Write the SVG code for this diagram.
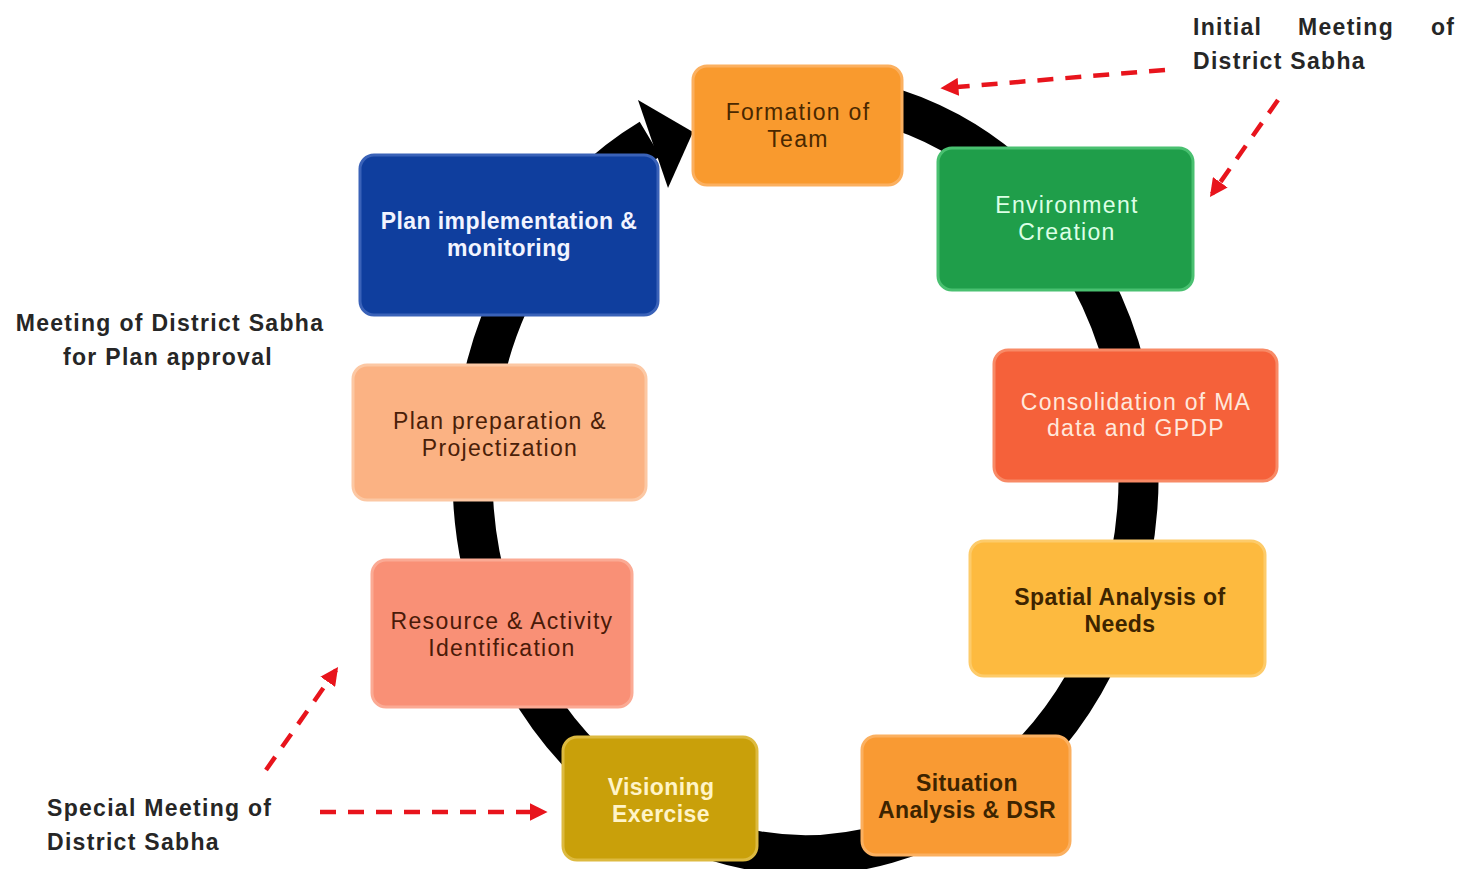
<svg xmlns="http://www.w3.org/2000/svg" width="1463" height="869" viewBox="0 0 1463 869">
<style>
.box{stroke-width:3;}
.t{font-family:"Liberation Sans",Arial,sans-serif;font-size:23px;text-anchor:middle;letter-spacing:1.3px;}
.b{font-weight:bold;letter-spacing:0.4px;}
.note{font-family:"Liberation Sans",Arial,sans-serif;font-size:23px;font-weight:bold;fill:#262626;letter-spacing:1.3px;}
.red{fill:none;stroke:#e8141c;stroke-width:4.5;stroke-dasharray:16 12;}
</style>
<defs>
<marker id="ra" viewBox="0 0 10 10" refX="8" refY="5" markerWidth="4" markerHeight="4" orient="auto" markerUnits="strokeWidth">
<path d="M0,0 L10,5 L0,10 z" fill="#e8141c"/>
</marker>
</defs>
<rect width="1463" height="869" fill="#ffffff"/>
<g id="connectors">
<path d="M 803 95 A 333 380 0 1 1 650 139" fill="none" stroke="#000" stroke-width="40"/>
<polygon points="638,100 668,188 693,132" fill="#000"/>
<path class="red" d="M 1165 70 L 944 88" marker-end="url(#ra)"/>
<path class="red" d="M 1278 100 L 1212 194" marker-end="url(#ra)"/>
<path class="red" d="M 266 770 L 336 670" marker-end="url(#ra)"/>
<path class="red" d="M 320 812 L 544 812" marker-end="url(#ra)"/>
</g>
<g id="n1">
<rect class="box" x="693" y="66" width="209" height="119" rx="14" fill="#F99A2E" stroke="#FBB060"/>
<text class="t" x="798" y="120" fill="#4a2800">Formation of</text>
<text class="t" x="798" y="147" fill="#4a2800">Team</text>
</g>
<g id="n2">
<rect class="box" x="938" y="148" width="255" height="142" rx="14" fill="#1F9E4A" stroke="#49C070"/>
<text class="t" x="1067" y="213" fill="#dcffe6">Environment</text>
<text class="t" x="1067" y="240" fill="#dcffe6">Creation</text>
</g>
<g id="n3">
<rect class="box" x="994" y="350" width="283" height="131" rx="14" fill="#F5613A" stroke="#F88A66"/>
<text class="t" x="1136" y="410" fill="#ffe8dc">Consolidation of MA</text>
<text class="t" x="1136" y="436" fill="#ffe8dc">data and GPDP</text>
</g>
<g id="n4">
<rect class="box" x="970" y="541" width="295" height="135" rx="14" fill="#FDBA3F" stroke="#FDCB6A"/>
<text class="t b" x="1120" y="605" fill="#3d2400">Spatial Analysis of</text>
<text class="t b" x="1120" y="632" fill="#3d2400">Needs</text>
</g>
<g id="n5">
<rect class="box" x="862" y="736" width="208" height="119" rx="14" fill="#F99A33" stroke="#FBB060"/>
<text class="t b" x="967" y="791" fill="#3d2400">Situation</text>
<text class="t b" x="967" y="818" fill="#3d2400">Analysis &amp; DSR</text>
</g>
<g id="n6">
<rect class="box" x="563" y="737" width="194" height="123" rx="14" fill="#C9A00A" stroke="#DDBA40"/>
<text class="t b" x="661" y="795" fill="#fff4c8">Visioning</text>
<text class="t b" x="661" y="822" fill="#fff4c8">Exercise</text>
</g>
<g id="n7">
<rect class="box" x="372" y="560" width="260" height="147" rx="14" fill="#F99076" stroke="#FBAA94"/>
<text class="t" x="502" y="629" fill="#4a1a08">Resource &amp; Activity</text>
<text class="t" x="502" y="656" fill="#4a1a08">Identification</text>
</g>
<g id="n8">
<rect class="box" x="353" y="365" width="293" height="135" rx="14" fill="#FBB283" stroke="#FCC8A4"/>
<text class="t" x="500" y="429" fill="#4a2008">Plan preparation &amp;</text>
<text class="t" x="500" y="456" fill="#4a2008">Projectization</text>
</g>
<g id="n9">
<rect class="box" x="360" y="155" width="298" height="160" rx="14" fill="#0F3E9E" stroke="#3A62B8"/>
<text class="t b" x="509" y="229" fill="#f2f4ff">Plan implementation &amp;</text>
<text class="t b" x="509" y="256" fill="#f2f4ff">monitoring</text>
</g>
<g id="notes">
<text class="note" x="1193" y="35">Initial</text>
<text class="note" x="1298" y="35">Meeting</text>
<text class="note" x="1431" y="35">of</text>
<text class="note" x="1193" y="69">District Sabha</text>
<text class="note" x="170" y="331" text-anchor="middle">Meeting of District Sabha</text>
<text class="note" x="168" y="365" text-anchor="middle">for Plan approval</text>
<text class="note" x="47" y="816">Special Meeting of</text>
<text class="note" x="47" y="850">District Sabha</text>
</g>
</svg>
